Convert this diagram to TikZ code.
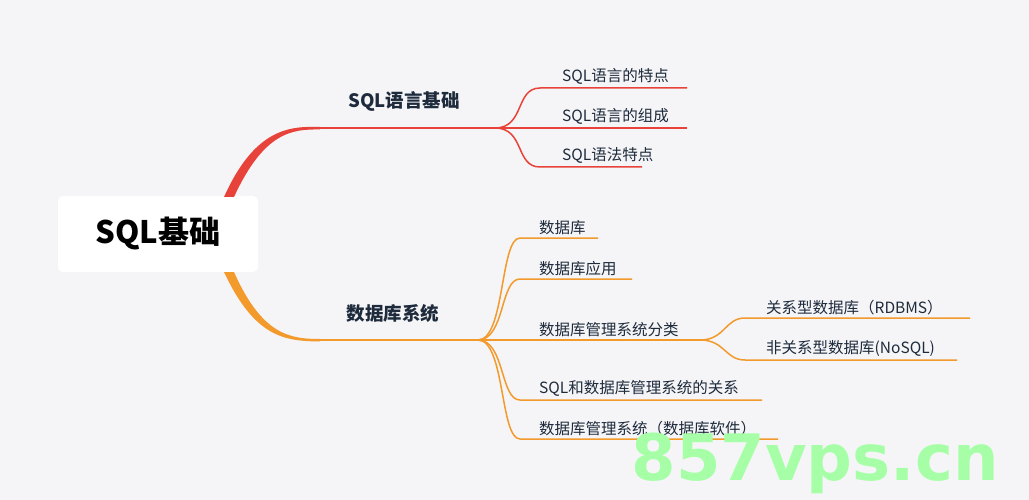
\documentclass[tikz,border=0pt]{standalone}
\usepackage{fontspec}
\newfontfamily\cjk{Noto Sans CJK SC}
\begin{document}
\begin{tikzpicture}[x=1pt,y=-1pt,
  red/.style={draw=redc,line width=2pt},
  org/.style={draw=orgc,line width=2pt},
  lbl/.style={anchor=south west,inner sep=3pt,font=\cjk\fontsize{15.5}{18}\selectfont,text=txtc},
  main/.style={font=\cjk\bfseries\fontsize{18.5}{21}\selectfont,text=txtc}]
\definecolor{redc}{HTML}{E8433A}\definecolor{orgc}{HTML}{F39A2C}
\definecolor{txtc}{HTML}{1E2B3C}\definecolor{bgc}{HTML}{F5F5F7}
\fill[bgc] (0,0) rectangle (1029,500);
\useasboundingbox (0,0) rectangle (1029,500);
% root
\node[fill=white,rounded corners=5pt,minimum width=200pt,minimum height=76pt,
  font=\cjk\bfseries\fontsize{31}{36}\selectfont,text=black] (root) at (158,234) {SQL基础};
% red branch
\coordinate (r0) at (228,196); \coordinate (r1) at (320,128); \coordinate (r2) at (495,128);
\fill[redc] (224,197) .. controls (255,128) and (290,126) .. (320,127) -- (320,129.5)
  .. controls (292,129) and (264,132) .. (234,197) -- cycle;
\draw[red] (r1) -- (r2);
\node[main] (lr) at (404,101) {SQL语言基础};
\foreach \y/\e/\t/\n in {88/687/SQL语言的特点/a,128/687/SQL语言的组成/b,167/642/SQL语法特点/c}{
  \coordinate (s\n) at (540,\y); \coordinate (e\n) at (\e,\y);
  \draw[redc,line width=1.5pt] (r2) .. controls (525,128) and (515,\y) .. (s\n) -- (e\n);
  \node[lbl] (t\n) at (559,\y) {\t};}
% orange branch
\coordinate (o1) at (320,340); \coordinate (o2) at (478,340);
\fill[orgc] (234,272) .. controls (262,335) and (290,339) .. (320,339) -- (320,341.5)
  .. controls (285,341) and (255,338) .. (224,272) -- cycle;
\draw[org] (o1) -- (o2);
\node[main] (lo) at (393,313) {数据库系统};
\foreach \y/\e/\t/\n in {238/598/数据库/a,279/632/数据库应用/b,340/700/数据库管理系统分类/c,400/762/SQL和数据库管理系统的关系/d,439/778/数据库管理系统（数据库软件）/e}{
  \coordinate (u\n) at (520,\y); \coordinate (v\n) at (\e,\y);
  \draw[orgc,line width=1.5pt] (o2) .. controls (505,340) and (500,\y) .. (u\n) -- (v\n);
  \node[lbl] (w\n) at (536,\y) {\t};}
\foreach \y/\e/\t/\n in {318/970/关系型数据库（RDBMS）/f,360/957/非关系型数据库(NoSQL)/g}{
  \coordinate (u\n) at (745,\y); \coordinate (v\n) at (\e,\y);
  \draw[orgc,line width=1.5pt] (vc) .. controls (725,340) and (725,\y) .. (u\n) -- (v\n);
  \node[lbl] (w\n) at (763,\y) {\t};}
% watermark
\node[font=\fontspec{DejaVu Sans}\bfseries\fontsize{64}{70}\selectfont,text=green!35!white] (wm) at (815,463) {857vps.cn};
\end{tikzpicture}
\end{document}
